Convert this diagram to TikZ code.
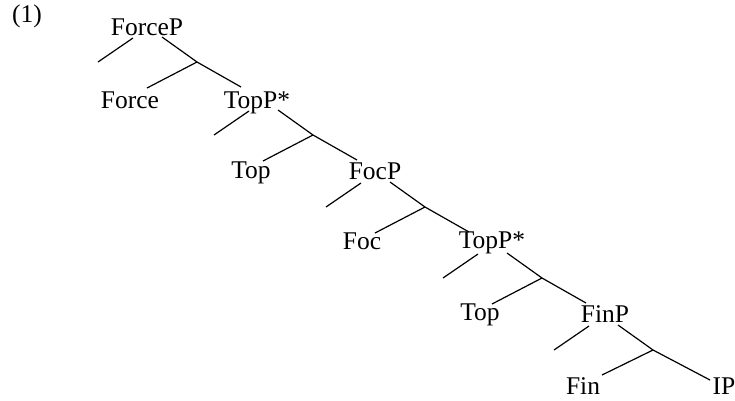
\documentclass[tikz,border=0pt]{standalone}
\usepackage{fontspec}
\setmainfont{Liberation Serif}
\usetikzlibrary{calc}
\begin{document}
\begin{tikzpicture}[x=1pt,y=-1pt,
  lbl/.style={anchor=base,inner sep=0pt,font=\fontsize{25.5}{30}\selectfont},
  br/.style={line width=1.2pt}]
\useasboundingbox (0,0) rectangle (735,400);
\node[lbl] (num) at (27,22) {(1)};
% labels
\node[lbl] (forcep) at (147,35) {ForceP};
\node[lbl] (force) at (130,108) {Force};
\node[lbl] (topp1) at (257,108) {TopP*};
\node[lbl] (top1) at (251,178) {Top};
\node[lbl] (focp) at (375,179) {FocP};
\node[lbl] (foc) at (362,249) {Foc};
\node[lbl] (topp2) at (492,248) {TopP*};
\node[lbl] (top2) at (480,320) {Top};
\node[lbl] (finp) at (605,322) {FinP};
\node[lbl] (fin) at (583,394) {Fin};
\node[lbl] (ip) at (724,394) {IP};
% junctions
\coordinate (j0) at (197,62);
\coordinate (j1) at (313,135);
\coordinate (j2) at (425,207);
\coordinate (j3) at (542,278);
\coordinate (j4) at (653,350);
\foreach \j in {j0,j1,j2,j3}{
  \draw[br] ($(\j)+(-64,-24)$) -- ($(\j)+(-99,0)$);
  \draw[br] ($(\j)+(-35,-25)$) -- (\j) -- ($(\j)+(44,25)$);
  \draw[br] (\j) -- ($(\j)+(-50,26)$);
}
\draw[br] ($(j4)+(-64,-24)$) -- ($(j4)+(-99,0)$);
\draw[br] ($(j4)+(-35,-25)$) -- (j4) -- ($(j4)+(57,30)$);
\draw[br] (j4) -- ($(j4)+(-51,25)$);
\end{tikzpicture}
\end{document}
